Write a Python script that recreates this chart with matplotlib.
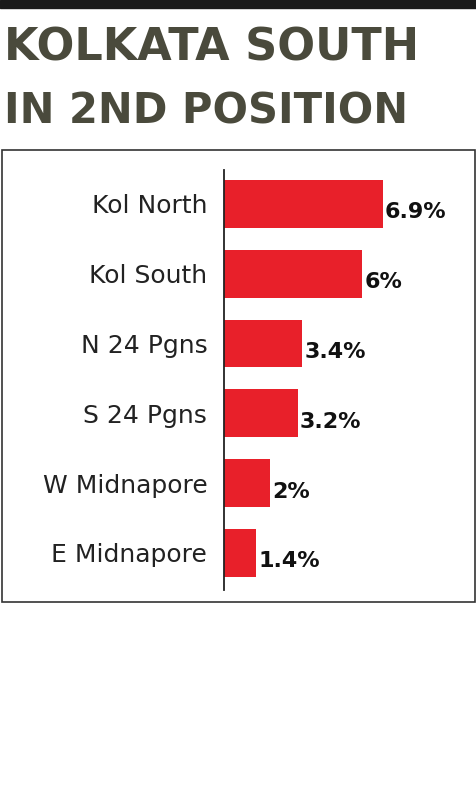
import matplotlib
matplotlib.use('Agg')
import matplotlib.pyplot as plt
from matplotlib.patches import Rectangle

districts = ['Kol North', 'Kol South', 'N 24 Pgns', 'S 24 Pgns', 'W Midnapore', 'E Midnapore']
values = [6.9, 6.0, 3.4, 3.2, 2.0, 1.4]
value_labels = ['6.9%', '6%', '3.4%', '3.2%', '2%', '1.4%']

W, H = 477, 800
fig = plt.figure(figsize=(W / 100, H / 100), dpi=100)
fig.patch.set_facecolor('white')

# top black strip
fig.add_artist(Rectangle((0, 1 - 8 / H), 1, 8 / H, transform=fig.transFigure, color='#1a1a1a'))

title_color = '#4a4a3c'
for txt, yc, fs in [('KOLKATA SOUTH', 48, 32), ('IN 2ND POSITION', 112, 30)]:
    fig.text(4 / W, 1 - yc / H, txt, ha='left', va='center', fontsize=fs,
             fontweight='bold', color=title_color, family='DejaVu Sans')

# frame around chart
fig.add_artist(Rectangle((2 / W, 1 - 602 / H), 473 / W, 452 / H, transform=fig.transFigure,
                         fill=False, edgecolor='#333333', linewidth=1.2))

ax = fig.add_axes([224 / W, 1 - 590 / H, 251 / W, 420 / H])
pos = list(range(len(districts)))
ax.barh(pos, values, height=48 / 70, color='#e8202a', left=0)
ax.set_xlim(0, 251 / 23)
ax.set_ylim(5.53, -0.486)
for s in ['top', 'right', 'bottom']:
    ax.spines[s].set_visible(False)
ax.spines['left'].set_color('#222222')
ax.spines['left'].set_linewidth(1.3)
ax.set_xticks([])
ax.set_yticks(pos)
ax.set_yticklabels(districts, fontsize=18, color='#222222')
ax.tick_params(axis='y', length=0, pad=12)
for p, v, lab in zip(pos, values, value_labels):
    ax.text(v + 0.1, p + 0.12, lab, ha='left', va='center', fontsize=16,
            fontweight='bold', color='#111111')

fig.savefig('out.png', dpi=100)
